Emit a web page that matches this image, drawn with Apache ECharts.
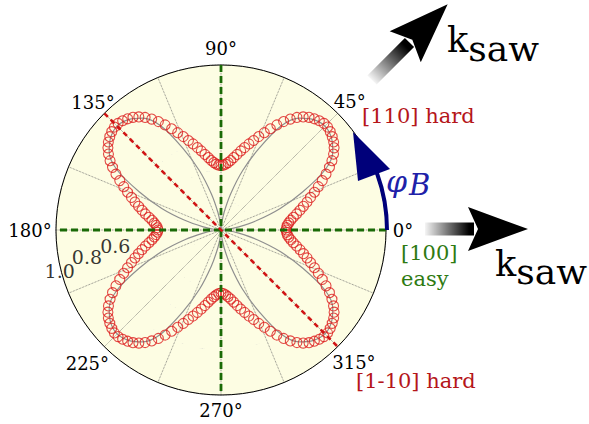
<!DOCTYPE html>
<html>
<head>
<meta charset="utf-8">
<script src="https://cdn.jsdelivr.net/npm/echarts@6/dist/echarts.min.js"></script>
<style>
  html, body { margin: 0; padding: 0; background: #fff; }
  #myCharts { width: 589px; height: 424px; }
</style>
</head>
<body>
<div id="myCharts"></div>
<script>
// measured curve (red circles), one value every 2 deg, 0..358
const phiStep = 2;
const rMeasured = [
  0.435,0.437,0.443,0.454,0.470,0.490,0.515,0.543,0.572,0.603,0.635,0.672,0.710,0.751,0.793,0.835,0.872,0.905,0.932,0.953,0.968,0.980,0.988,0.988,0.980,0.968,0.953,0.932,0.905,0.872,0.835,0.793,0.751,0.710,0.672,0.635,0.603,0.572,0.543,0.515,0.490,0.468,0.452,0.440,0.433,
  0.430,0.433,0.440,0.452,0.468,0.490,0.515,0.543,0.572,0.603,0.635,0.672,0.710,0.751,0.793,0.835,0.872,0.905,0.932,0.953,0.968,0.980,0.988,0.988,0.980,0.968,0.953,0.932,0.905,0.872,0.835,0.793,0.751,0.710,0.672,0.635,0.603,0.572,0.543,0.515,0.488,0.465,0.447,0.433,0.424,
  0.420,0.424,0.433,0.447,0.465,0.488,0.515,0.543,0.572,0.603,0.635,0.672,0.710,0.751,0.793,0.835,0.872,0.905,0.932,0.953,0.968,0.980,0.988,0.988,0.980,0.968,0.953,0.932,0.905,0.872,0.835,0.793,0.751,0.710,0.672,0.635,0.603,0.572,0.543,0.515,0.488,0.465,0.447,0.433,0.424,
  0.420,0.424,0.433,0.447,0.465,0.488,0.515,0.543,0.572,0.603,0.635,0.672,0.710,0.751,0.793,0.835,0.872,0.905,0.932,0.953,0.968,0.980,0.988,0.988,0.980,0.968,0.953,0.932,0.905,0.872,0.835,0.793,0.751,0.710,0.672,0.635,0.603,0.572,0.543,0.515,0.490,0.470,0.454,0.443,0.437
];

// gray reference curve, one value every 5 deg, 0..355
const grayStep = 5;
const rModel = [
  0.00,0.04,0.12,0.25,0.42,0.60,0.80,0.91,0.96,0.98,0.96,0.91,0.80,0.60,0.42,0.25,0.12,0.04,
  0.00,0.04,0.12,0.25,0.42,0.60,0.80,0.91,0.96,0.98,0.96,0.91,0.80,0.60,0.42,0.25,0.12,0.04,
  0.00,0.04,0.12,0.25,0.42,0.60,0.80,0.91,0.96,0.98,0.96,0.91,0.80,0.60,0.42,0.25,0.12,0.04,
  0.00,0.04,0.12,0.25,0.42,0.60,0.80,0.91,0.96,0.98,0.96,0.91,0.80,0.60,0.42,0.25,0.12,0.04
];

// tick labels
const angleTicks = [0, 45, 90, 135, 180, 225, 270, 315];
const rTickLabels = [0.6, 0.8, 1.0];
const easyAxes = [[0, 180], [90, 270]];
const hardAxis = [135, 315];

const serif = "'DejaVu Serif', serif";
const cx = 221, cy = 230, R = 165, rMax = 1.1;
// distance (px from centre) of each angle label, as matplotlib placed them
const angleLabelPx = [182, 182, 182, 181, 191, 189, 180, 188];

const myCharts = echarts.init(document.getElementById("myCharts"), null, { renderer: "svg" });

const redData = rMeasured.map((r, i) => [r, i * phiStep]);
const grayData = rModel.map((r, i) => [r, i * grayStep]);
grayData.push([rModel[0], 360]);

// arrow with gradient tail, drawn pointing +x then rotated
function arrow(x, y, rot, shaftLen) {
  return {
    type: "group",
    x: x,
    y: y,
    rotation: rot,
    children: [
      {
        type: "rect",
        shape: { x: 0, y: -6.5, width: shaftLen + 4, height: 13 },
        style: {
          fill: new echarts.graphic.LinearGradient(0, 0, 1, 0, [
            { offset: 0, color: "rgba(0,0,0,0.04)" },
            { offset: 0.9, color: "rgba(0,0,0,1)" }
          ])
        }
      },
      {
        type: "polygon",
        shape: {
          points: [[shaftLen + 58, 0], [shaftLen - 2, -22], [shaftLen + 8, 0], [shaftLen - 2, 22]]
        },
        style: { fill: "#000" }
      }
    ]
  };
}

// angle labels around the rim
const angleLabelTexts = angleTicks.map((a, i) => {
  const t = a * Math.PI / 180;
  return {
    type: "text",
    x: cx + angleLabelPx[i] * Math.cos(t),
    y: cy - angleLabelPx[i] * Math.sin(t),
    style: {
      text: a + "°",
      fill: "#000",
      font: "18px " + serif,
      align: "center",
      verticalAlign: "middle"
    },
    z: 10
  };
});

let option = {
  animation: false,
  backgroundColor: "#fff",
  polar: { center: [cx, cy], radius: R },
  angleAxis: {
    type: "value",
    min: 0,
    max: 360,
    interval: 22.5,
    startAngle: 0,
    clockwise: false,
    axisLine: { lineStyle: { color: "#000", width: 1 } },
    axisTick: { show: false },
    axisLabel: { show: false },
    splitLine: { lineStyle: { color: "#666", type: "dotted", width: 0.8 } }
  },
  radiusAxis: {
    type: "value",
    min: 0,
    max: rMax,
    interval: 0.2,
    axisLine: { show: false },
    axisTick: { show: false },
    axisLabel: { show: false },
    splitLine: { lineStyle: { color: "#666", type: "dotted", width: 0.8 } },
    splitArea: { show: true, areaStyle: { color: ["#fdfde3"] } }
  },
  series: [
    {
      name: "model",
      type: "line",
      coordinateSystem: "polar",
      data: grayData,
      showSymbol: false,
      smooth: 0.3,
      lineStyle: { color: "#8f8f8f", width: 1.2 },
      z: 2
    },
    {
      name: "measured",
      type: "scatter",
      coordinateSystem: "polar",
      data: redData,
      symbol: "circle",
      symbolSize: 10,
      itemStyle: { color: "rgba(255,255,255,0)", borderColor: "#dc1e1e", borderWidth: 1.1 },
      z: 3
    },
    ...easyAxes.map(a => ({
      type: "line",
      coordinateSystem: "polar",
      data: [[rMax, a[0]], [rMax, a[1]]],
      showSymbol: false,
      lineStyle: { color: "#1a6a06", width: 2.8, type: [7, 4] },
      z: 4
    })),
    {
      type: "line",
      coordinateSystem: "polar",
      data: [[rMax, hardAxis[0]], [rMax, hardAxis[1]]],
      showSymbol: false,
      lineStyle: { color: "#d01616", width: 2.6, type: [5, 4] },
      z: 4
    },
    {
      // radial tick labels, placed along ~190-196 deg
      type: "scatter",
      coordinateSystem: "polar",
      data: rTickLabels.map((r, i) => [r, 190 + i * 3]),
      symbolSize: 0,
      silent: true,
      label: {
        show: true,
        position: "left",
        distance: 2,
        fontFamily: serif,
        fontSize: 19,
        color: "#000",
        formatter: p => p.value[0].toFixed(1)
      },
      z: 5
    }
  ],
  graphic: angleLabelTexts.concat([
    arrow(372, 80, Math.PI / 4, 49),
    arrow(425, 229, 0, 45),
    {
      type: "arc",
      shape: { cx: cx, cy: cy, r: R + 1, startAngle: -20 * Math.PI / 180, endAngle: 0, clockwise: true },
      style: { stroke: "#00007a", lineWidth: 4, fill: "none" },
      z: 10
    },
    {
      type: "polygon",
      shape: { points: [[353, 132], [358, 181], [390, 169]] },
      style: { fill: "#00007a" },
      z: 10
    },
    {
      type: "text", x: 362, y: 116,
      style: { text: "[110] hard", fill: "#b5161a", font: "21px " + serif, verticalAlign: "middle" }
    },
    {
      type: "text", x: 356, y: 381,
      style: { text: "[1-10] hard", fill: "#b5161a", font: "21px " + serif, verticalAlign: "middle" }
    },
    {
      type: "text", x: 401, y: 253,
      style: { text: "[100]", fill: "#2e7a12", font: "21px " + serif, verticalAlign: "middle" }
    },
    {
      type: "text", x: 401, y: 279,
      style: { text: "easy", fill: "#2e7a12", font: "21px " + serif, verticalAlign: "middle" }
    },
    {
      type: "text", x: 386, y: 166,
      style: {
        text: "{p|φ}{b|B}",
        verticalAlign: "top",
        fill: "#2020a8",
        rich: {
          p: { fontFamily: serif, fontStyle: "italic", fontSize: 30, color: "#2020a8", padding: [0, 2, 4, 0] },
          b: { fontFamily: serif, fontStyle: "italic", fontSize: 29, color: "#2020a8", padding: [4, 0, 0, 0] }
        }
      }
    },
    {
      type: "text", x: 447, y: 22,
      style: {
        text: "{k|k}{s|saw}",
        verticalAlign: "top",
        rich: {
          k: { fontFamily: serif, fontSize: 35, color: "#000", padding: [0, 0, 8, 0] },
          s: { fontFamily: serif, fontSize: 36, color: "#000", padding: [8, 0, 0, 0] }
        }
      }
    },
    {
      type: "text", x: 495, y: 246,
      style: {
        text: "{k|k}{s|saw}",
        verticalAlign: "top",
        rich: {
          k: { fontFamily: serif, fontSize: 35, color: "#000", padding: [0, 0, 7, 0] },
          s: { fontFamily: serif, fontSize: 36, color: "#000", padding: [7, 0, 0, 0] }
        }
      }
    }
  ])
};
myCharts.setOption(option);
</script>
</body>
</html>
